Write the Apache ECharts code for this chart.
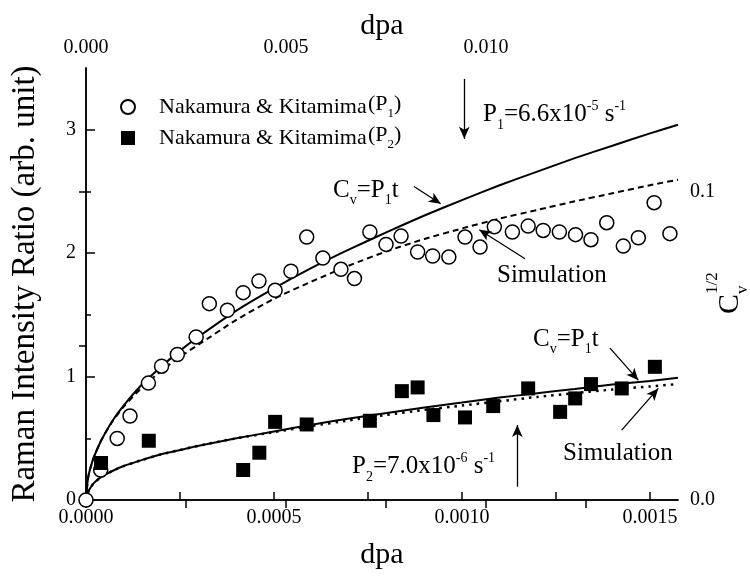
<!DOCTYPE html>
<html>
<head>
<meta charset="utf-8">
<script src="https://cdn.jsdelivr.net/npm/echarts@6/dist/echarts.min.js"></script>
<style>
  html, body { margin: 0; padding: 0; background: #fff; }
  #chart { width: 750px; height: 580px; }
</style>
</head>
<body>
<div id="chart"></div>
<script>
var FONT = '"Liberation Serif", "DejaVu Serif", serif';

// measured points, bottom dpa axis vs Raman intensity ratio
var p1X = [0, 0.000039, 0.000083, 0.000117, 0.000166, 0.000201, 0.000243, 0.000293, 0.000328, 0.000376,
           0.000418, 0.000460, 0.000503, 0.000545, 0.000587, 0.000630, 0.000678, 0.000714, 0.000755, 0.000798,
           0.000838, 0.000882, 0.000922, 0.000965, 0.001008, 0.001048, 0.001086, 0.001134, 0.001176, 0.001216,
           0.001259, 0.001302, 0.001343, 0.001385, 0.001429, 0.001469, 0.001511, 0.001553];
var p1Y = [0, 0.243, 0.499, 0.680, 0.947, 1.084, 1.179, 1.321, 1.591, 1.537,
           1.680, 1.774, 1.699, 1.853, 2.130, 1.960, 1.869, 1.794, 2.171, 2.071,
           2.138, 2.009, 1.977, 1.968, 2.130, 2.049, 2.213, 2.171, 2.219, 2.184,
           2.171, 2.150, 2.109, 2.247, 2.057, 2.125, 2.409, 2.158];

var p2X = [0.000040, 0.000167, 0.000418, 0.000461, 0.000503, 0.000587, 0.000755, 0.000840, 0.000882, 0.000924,
           0.001008, 0.001083, 0.001176, 0.001261, 0.001301, 0.001343, 0.001425, 0.001513];
var p2Y = [0.30, 0.48, 0.243, 0.383, 0.633, 0.612, 0.642, 0.882, 0.912, 0.688,
           0.669, 0.761, 0.904, 0.714, 0.823, 0.939, 0.904, 1.079];

// curves
var fitX  = [0, 0.000005, 0.00001, 0.00002, 0.00004, 0.00007, 0.0001, 0.00015, 0.0002, 0.00025, 0.0003, 0.0004,
             0.0005, 0.0006, 0.0007, 0.0008, 0.0009, 0.001, 0.0011, 0.0012, 0.0013, 0.0014, 0.0015, 0.0015745];
var p1Fit = [0, 0.17, 0.24, 0.34, 0.48, 0.64, 0.765, 0.94, 1.08, 1.21, 1.325, 1.535,
             1.715, 1.88, 2.03, 2.17, 2.305, 2.43, 2.55, 2.66, 2.77, 2.87, 2.97, 3.04];
var p1Sim = [0, 0.17, 0.24, 0.34, 0.48, 0.635, 0.755, 0.915, 1.045, 1.16, 1.26, 1.46,
             1.63, 1.77, 1.9, 2.015, 2.115, 2.2, 2.28, 2.35, 2.42, 2.485, 2.55, 2.595];
var p2Fit = [0, 0.06, 0.09, 0.135, 0.185, 0.235, 0.275, 0.325, 0.37, 0.405, 0.44, 0.5,
             0.555, 0.61, 0.66, 0.705, 0.75, 0.79, 0.83, 0.865, 0.9, 0.935, 0.965, 0.99];
var p2Sim = [0, 0.06, 0.09, 0.135, 0.185, 0.235, 0.275, 0.325, 0.37, 0.405, 0.44, 0.5,
             0.55, 0.6, 0.645, 0.69, 0.73, 0.765, 0.8, 0.835, 0.865, 0.895, 0.92, 0.94];

// ticks and labels
var bottomLabels = [0, 0.0005, 0.0010, 0.0015];
var bottomMinor  = [0.00025, 0.00075, 0.00125];
var topLabels    = [0, 0.005, 0.010];
var topTicks     = [0, 0.0025, 0.005, 0.0075, 0.010, 0.0125];
var leftLabels   = [0, 1, 2, 3];
var leftMinor    = [0.5, 1.5, 2.5];
var rightLabels  = [0, 0.1];
var rightTicks   = [0, 0.05, 0.1];

var XMAX = 0.0015745, TOPMAX = 0.0148, YMAX = 3.5, RMAX = 0.14;

function zip(xs, ys) {
    var out = [];
    for (var i = 0; i < xs.length; i++) out.push([xs[i], ys[i]]);
    return out;
}

// text with sub / superscripts built from pieces
var mctx = document.createElement('canvas').getContext('2d');
function textW(s, fs) {
    mctx.font = fs + 'px ' + FONT;
    return mctx.measureText(s).width;
}
function pieces(x, base, parts, size) {
    var els = [], cx = x;
    parts.forEach(function (p) {
        var fs = p.small ? Math.round(size * 0.58) : size;
        var b = base + (p.dy || 0);
        els.push({
            type: 'text', x: cx, y: b - 0.3375 * fs, silent: true,
            style: { text: p.t, fontSize: fs, fontFamily: FONT, fill: '#000', align: 'left', verticalAlign: 'middle' }
        });
        if (!p.stay) cx += textW(p.t, fs);
    });
    return els;
}
function sub(t) { return { t: t, small: 1, dy: 7 }; }
function sup(t) { return { t: t, small: 1, dy: -12 }; }
function n(t) { return { t: t }; }

var chart = echarts.init(document.getElementById('chart'));

var arrowLines = [
    [{ coord: [0.0010061, 3.412] }, { coord: [0.0010061, 2.926] }],
    [{ coord: [0.0011471, 0.108] }, { coord: [0.0011471, 0.607] }],
    [{ coord: [0.0008723, 2.540] }, { coord: [0.0009434, 2.400], lineStyle: { curveness: 0.3 } }],
    [{ coord: [0.0011676, 1.955] }, { coord: [0.0010460, 2.190], lineStyle: { curveness: -0.25 } }],
    [{ coord: [0.0013936, 1.230] }, { coord: [0.0014689, 0.971], lineStyle: { curveness: 0.3 } }],
    [{ coord: [0.0014247, 0.566] }, { coord: [0.0015221, 0.904], lineStyle: { curveness: 0.15 } }]
];

var axisBase = {
    type: 'value',
    axisLine: { show: true, lineStyle: { color: '#000', width: 1.5 } },
    splitLine: { show: false },
    axisLabel: { color: '#000', fontFamily: FONT, fontSize: 20 },
    nameTextStyle: { color: '#000', fontFamily: FONT }
};

function ax(extra) {
    return echarts.util.merge(echarts.util.clone(axisBase), extra, true);
}

var graphics = []
    .concat(pieces(483, 123, [n('P'), sub('1'), n('=6.6x10'), sup('-5'), n(' s'), sup('-1')], 25))
    .concat(pieces(333, 198.5, [n('C'), sub('v'), n('=P'), sub('1'), n('t')], 25))
    .concat(pieces(497, 283.5, [n('Simulation')], 25))
    .concat(pieces(533, 347.5, [n('C'), sub('v'), n('=P'), sub('1'), n('t')], 25))
    .concat(pieces(563, 462, [n('Simulation')], 25))
    .concat(pieces(352, 475, [n('P'), sub('2'), n('=7.0x10'), sup('-6'), n(' s'), sup('-1')], 25))
    .concat(pieces(368, 111.5, [n('(P'), { t: '1', small: 1, dy: 6 }, n(')')], 22))
    .concat(pieces(368, 142.5, [n('(P'), { t: '2', small: 1, dy: 6 }, n(')')], 22));

graphics.push({
    type: 'group', x: 740, y: 314, rotation: Math.PI / 2, silent: true,
    children: pieces(0, 0, [n('C'), { t: 'v', small: 1, dy: 8, stay: 1 }, { t: '1/2', small: 1, dy: -22 }], 30)
});

var option = {
    backgroundColor: '#fff',
    animation: false,
    grid: { left: 86, right: 72, top: 68, bottom: 80, outerBoundsMode: 'none' },
    legend: {
        left: 115, top: 91, orient: 'vertical',
        itemWidth: 14, itemHeight: 14, itemGap: 9,
        data: [{ name: 'P1', icon: 'circle' }, { name: 'P2', icon: 'rect' }],
        formatter: function () { return 'Nakamura & Kitamima'; },
        textStyle: { color: '#000', fontFamily: FONT, fontSize: 22, padding: [0, 0, 0, 19] },
        selectedMode: false
    },
    xAxis: [
        ax({
            position: 'bottom', min: 0, max: XMAX,
            axisTick: { inside: true, length: 8, customValues: bottomLabels, lineStyle: { color: '#000', width: 1.5 } },
            axisLabel: { customValues: bottomLabels, margin: 8, formatter: function (v) { return v.toFixed(4); } },
            name: 'dpa', nameLocation: 'middle', nameGap: 40, nameMoveOverlap: false, nameTextStyle: { fontSize: 30 }
        }),
        ax({
            position: 'bottom', min: 0, max: XMAX,
            axisLine: { show: false },
            axisTick: { inside: true, length: 8, customValues: bottomMinor, lineStyle: { color: '#000', width: 1.5 } },
            axisLabel: { show: false }
        }),
        ax({
            position: 'top', min: 0, max: TOPMAX,
            axisTick: { inside: true, length: 8, customValues: topTicks, lineStyle: { color: '#000', width: 1.5 } },
            axisLabel: { customValues: topLabels, margin: 10, formatter: function (v) { return v.toFixed(3); } },
            name: 'dpa', nameLocation: 'middle', nameGap: 27, nameMoveOverlap: false, nameTextStyle: { fontSize: 30 }
        })
    ],
    yAxis: [
        ax({
            position: 'left', min: 0, max: YMAX,
            axisTick: { inside: true, length: 9, customValues: leftLabels, lineStyle: { color: '#000', width: 1.5 } },
            axisLabel: { customValues: leftLabels, margin: 10 },
            name: 'Raman Intensity Ratio (arb. unit)', nameLocation: 'middle', nameGap: 44, nameMoveOverlap: false,
            nameTextStyle: { fontSize: 33 }
        }),
        ax({
            position: 'left', min: 0, max: YMAX,
            axisLine: { show: false },
            axisTick: { inside: true, length: 5, customValues: leftMinor, lineStyle: { color: '#000', width: 1.5 } },
            axisLabel: { show: false }
        }),
        ax({
            position: 'right', min: 0, max: RMAX,
            axisTick: { inside: true, length: 7, customValues: rightTicks, lineStyle: { color: '#000', width: 1.5 } },
            axisLabel: { customValues: rightLabels, margin: 12, formatter: function (v) { return v.toFixed(1); } }
        })
    ],
    series: [
        {
            name: 'fit1', type: 'line', data: zip(fitX, p1Fit), symbol: 'none', smooth: 0.2,
            lineStyle: { color: '#000', width: 2 }, z: 2,
            markLine: {
                silent: true, symbol: ['none', 'arrow'], symbolSize: [8, 12],
                label: { show: false },
                lineStyle: { color: '#000', width: 1.3, type: 'solid' },
                data: arrowLines
            }
        },
        {
            name: 'sim1', type: 'line', data: zip(fitX, p1Sim), symbol: 'none', smooth: 0.2,
            lineStyle: { color: '#000', width: 2, type: [6, 4] }, z: 2
        },
        {
            name: 'fit2', type: 'line', data: zip(fitX, p2Fit), symbol: 'none', smooth: 0.2,
            lineStyle: { color: '#000', width: 2 }, z: 2
        },
        {
            name: 'sim2', type: 'line', data: zip(fitX, p2Sim), symbol: 'none', smooth: 0.2,
            lineStyle: { color: '#000', width: 2.5, type: [2.5, 5] }, z: 2
        },
        {
            name: 'P1', type: 'scatter', data: zip(p1X, p1Y), symbol: 'circle', symbolSize: 14, clip: false,
            itemStyle: { color: '#fff', borderColor: '#000', borderWidth: 1.5, opacity: 1 }, z: 4
        },
        {
            name: 'P2', type: 'scatter', data: zip(p2X, p2Y), symbol: 'rect', symbolSize: 14, clip: false,
            itemStyle: { color: '#000', opacity: 1 }, z: 5
        }
    ],
    graphic: graphics
};

chart.setOption(option);
</script>
</body>
</html>
